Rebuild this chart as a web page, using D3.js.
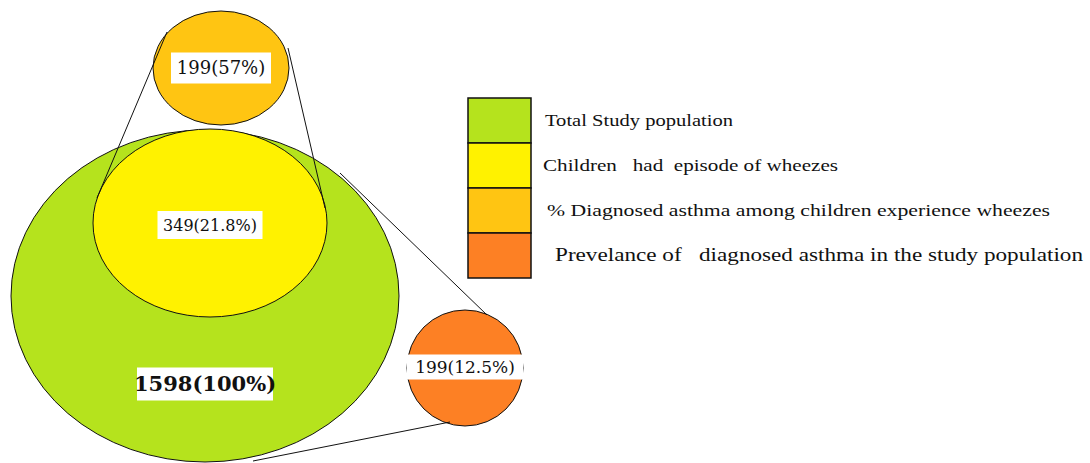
<!DOCTYPE html>
<html>
<head>
<meta charset="utf-8">
<script src="https://cdn.jsdelivr.net/npm/d3@7"></script>
<style>
  html, body { margin: 0; padding: 0; background: #fff; }
  svg { display: block; }
</style>
</head>
<body>
<div id="chart"></div>
<script>
// data
const categories = ["Total Study population", "Children had episode of wheezes",
  "% Diagnosed asthma among children experience wheezes",
  "Prevelance of diagnosed asthma in the study population"];
const counts = [1598, 349, 199, 199];
const percents = ["100%", "21.8%", "57%", "12.5%"];
const legendLabels = ["Total Study population", "Children\u00a0\u00a0\u00a0had\u00a0 episode of wheezes",
  "% Diagnosed asthma among children experience wheezes",
  "Prevelance of\u00a0\u00a0 diagnosed asthma in the study population"];
const colors = ["#b5e31d", "#fff200", "#ffc512", "#fd8024"];

const width = 1090, height = 463;

const color = d3.scaleOrdinal().domain(categories).range(colors);

// where each bubble sits (schematic layout)
const layout = [
  { cx: 205, cy: 296, rx: 194, ry: 166, ly: 384, fs: 21, bold: true, bw: 136, bh: 33 },
  { cx: 210, cy: 223, rx: 117, ry: 94, ly: 225, fs: 16, bold: false, bw: 105, bh: 28 },
  { cx: 221, cy: 68, rx: 68, ry: 57, ly: 68, fs: 18, bold: false, bw: 100, bh: 31 },
  { cx: 465, cy: 368, rx: 58, ry: 58, ly: 367, fs: 17, bold: false, bw: 116, bh: 25 }
];

const nodes = categories.map((c, i) => Object.assign({ cat: c, n: counts[i], pct: percents[i] }, layout[i]));

const svg = d3.select("#chart").append("svg")
  .attr("width", width)
  .attr("height", height);

// ellipses
svg.selectAll("ellipse.bubble")
  .data(nodes)
  .join("ellipse")
  .attr("class", "bubble")
  .attr("cx", d => d.cx)
  .attr("cy", d => d.cy)
  .attr("rx", d => d.rx)
  .attr("ry", d => d.ry)
  .attr("fill", d => color(d.cat))
  .attr("stroke", "#111")
  .attr("stroke-width", 1);

// connector lines (zoom-out style)
const links = [
  [[167, 32], [97, 198]],
  [[288, 48], [325, 208]],
  [[340, 173], [487, 315]],
  [[253, 461], [450, 422]]
];
svg.selectAll("path.link")
  .data(links)
  .join("path")
  .attr("class", "link")
  .attr("d", d3.line())
  .attr("fill", "none")
  .attr("stroke", "#111")
  .attr("stroke-width", 1);

// labels with white boxes
const lab = svg.selectAll("g.lab")
  .data(nodes)
  .join("g")
  .attr("class", "lab")
  .attr("transform", d => `translate(${d.cx},${d.ly})`);

lab.append("rect")
  .attr("x", d => -d.bw / 2)
  .attr("y", d => -d.bh / 2)
  .attr("width", d => d.bw)
  .attr("height", d => d.bh)
  .attr("fill", "#fff");

lab.append("text")
  .attr("text-anchor", "middle")
  .attr("dy", "0.35em")
  .attr("font-family", "'DejaVu Serif', serif")
  .attr("font-size", d => d.fs)
  .attr("font-weight", d => d.bold ? "bold" : "normal")
  .attr("fill", "#111")
  .text(d => `${d.n}(${d.pct})`);

// legend
const legendY = d3.scaleBand().domain(categories).range([98, 278]);
const lg = svg.append("g").attr("class", "legend");

lg.selectAll("rect")
  .data(categories)
  .join("rect")
  .attr("x", 468)
  .attr("y", d => legendY(d))
  .attr("width", 63)
  .attr("height", legendY.bandwidth())
  .attr("fill", d => color(d))
  .attr("stroke", "#111")
  .attr("stroke-width", 1.5);

const legendText = [
  { x: 545, w: 188, fs: 17 },
  { x: 543, w: 295, fs: 17 },
  { x: 547, w: 503, fs: 17 },
  { x: 555, w: 528, fs: 19 }
];

lg.selectAll("text")
  .data(categories)
  .join("text")
  .attr("x", (d, i) => legendText[i].x)
  .attr("y", d => legendY(d) + legendY.bandwidth() / 2 + 5)
  .attr("font-family", "'Liberation Serif', serif")
  .attr("font-size", (d, i) => legendText[i].fs)
  .attr("textLength", (d, i) => legendText[i].w)
  .attr("lengthAdjust", "spacingAndGlyphs")
  .attr("fill", "#111")
  .text((d, i) => legendLabels[i]);
</script>
</body>
</html>
